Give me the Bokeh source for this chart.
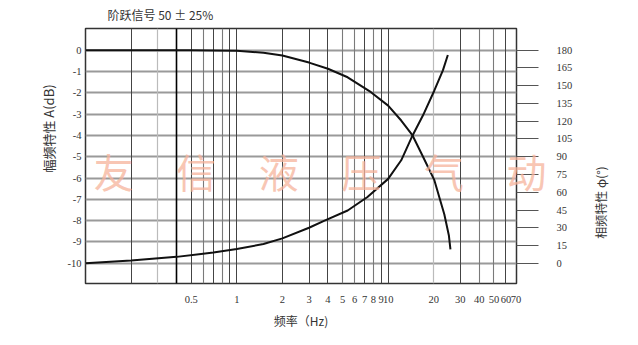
import math
from bokeh.plotting import figure
from bokeh.models import (Range1d, LinearAxis, FixedTicker, Grid, Label)
from bokeh.embed import file_html
from bokeh.resources import INLINE

# ---- data ----
amp_freq = [0.1, 0.2, 0.5, 1.0, 1.5, 2.0, 3.0, 4.0, 5.4, 7.7, 10.0, 12.2, 14.5, 17.0, 20.2, 23.5, 25.2, 25.8]
amp_db   = [0.0, 0.0, 0.0, -0.03, -0.12, -0.25, -0.58, -0.87, -1.27, -1.97, -2.6, -3.3, -4.0, -5.0, -6.1, -7.7, -8.7, -9.35]

phase_freq = [0.1, 0.2, 0.4, 0.7, 1.0, 1.5, 2.0, 3.0, 3.8, 5.4, 7.3, 10.0, 12.2, 14.5, 17.0, 20.2, 23.0, 24.8]
phase_deg  = [0.0, 2.3, 5.4, 9.0, 12.0, 16.3, 21.0, 30.0, 36.0, 44.6, 56.0, 71.3, 87.0, 108.0, 125.0, 146.0, 163.0, 176.0]

x_tick_values = [0.5, 1, 2, 3, 4, 5, 6, 7, 8, 9, 10, 20, 30, 40, 50, 60, 70]
x_tick_labels = ["0.5", "1", "2", "3", "4", "5", "6", "7", "8", "9", "10", "20", "30", "40", "50", "60", "70"]
db_ticks = [0, -1, -2, -3, -4, -5, -6, -7, -8, -9, -10]
db_labels = ["0", "-1", "-2", "-3", "-4", "-5", "-6", "-7", "-8", "-9", "-10"]
deg_ticks = [0, 15, 30, 45, 60, 75, 90, 105, 120, 135, 150, 165, 180]

grid_dark = [0.2, 0.5, 0.7, 0.9, 1, 2, 3, 4, 7, 9, 10, 30, 60]
grid_mid = [0.6, 0.8, 5, 6, 8, 40, 50]
grid_light = [0.3, 20]
grid_bold = [0.4]

title_text = "阶跃信号 50 ± 25%"
x_title = "频率（Hz)"
left_title = "幅频特性 A(dB)"
right_title = "相频特性 φ(°)"
watermark = ["友", "信", "液", "压", "气", "动"]

# ---- figure ----
W, H = 638, 345
y_lo, y_hi = -10.95, 1.02
p = figure(width=W, height=H, x_axis_type="log", x_range=Range1d(0.1, 70.5),
           y_range=Range1d(y_lo, y_hi), output_backend="svg", toolbar_location=None,
           min_border_left=85, min_border_right=122, min_border_top=28, min_border_bottom=62)
p.background_fill_color = "white"
p.border_fill_color = "white"
p.outline_line_color = "#333333"
p.outline_line_width = 1.5

# phase range aligned: 0 deg at -10 dB, 180 deg at 0 dB
p.extra_y_ranges = {"phase": Range1d((y_lo + 10) * 18, (y_hi + 10) * 18)}

tick_font = "Liberation Serif"

# x axis
xa = p.xaxis[0]
xa.ticker = FixedTicker(ticks=x_tick_values)
xa.major_label_overrides = {v: s for v, s in zip(x_tick_values, x_tick_labels)}
xa.major_tick_out = 0
xa.major_tick_in = 0
xa.minor_tick_out = 0
xa.minor_tick_in = 0
xa.axis_line_color = None
xa.major_label_standoff = 12
xa.major_label_text_font = tick_font
xa.major_label_text_font_size = "10.5px"
xa.major_label_text_color = "#333333"
xa.axis_label = x_title
xa.axis_label_text_font = "Noto Sans CJK SC"
xa.axis_label_text_font_style = "normal"
xa.axis_label_text_font_size = "12px"
xa.axis_label_text_color = "#333333"
xa.axis_label_standoff = 6

# left y axis
ya = p.yaxis[0]
ya.ticker = FixedTicker(ticks=db_ticks)
ya.major_label_overrides = {v: s for v, s in zip(db_ticks, db_labels)}
ya.major_tick_out = 0
ya.major_tick_in = 0
ya.minor_tick_out = 0
ya.minor_tick_in = 0
ya.axis_line_color = None
ya.major_label_standoff = 4
ya.major_label_text_font = tick_font
ya.major_label_text_font_size = "10.5px"
ya.major_label_text_color = "#333333"

# right phase axis
ra = LinearAxis(y_range_name="phase", ticker=FixedTicker(ticks=deg_ticks))
ra.major_tick_out = 22
ra.major_tick_in = 0
ra.minor_tick_out = 0
ra.minor_tick_in = 0
ra.major_tick_line_color = "#555555"
ra.axis_line_color = None
ra.major_label_standoff = 18
ra.major_label_text_font = tick_font
ra.major_label_text_font_size = "10.5px"
ra.major_label_text_color = "#333333"
p.add_layout(ra, "right")

# grids
p.xgrid.visible = False
p.ygrid.ticker = FixedTicker(ticks=db_ticks)
p.ygrid.grid_line_color = "#9a9a9a"
p.ygrid.grid_line_width = 2

for ticks, color, width in [(grid_light, "#bbbbbb", 1.2), (grid_mid, "#7a7a7a", 1.1),
                            (grid_dark, "#444444", 1.0), (grid_bold, "#000000", 1.6)]:
    g = Grid(dimension=0, ticker=FixedTicker(ticks=ticks), grid_line_color=color,
             grid_line_width=width)
    p.add_layout(g, "center")

# watermark (last glyph extends past the frame -> put it in a side panel, unclipped)
wm_x0, wm_dx, wm_y = 113, 82.6, 170
for i, ch in enumerate(watermark):
    lab = Label(x=wm_x0 + i * wm_dx, y=wm_y, x_units="canvas", y_units="canvas",
                text=ch, text_align="center", text_baseline="middle",
                text_font="Noto Sans CJK SC", text_font_size="40px",
                text_color="#f6b49c", text_alpha=0.75)
    p.add_layout(lab, "right" if i == len(watermark) - 1 else "center")

# curves
p.line(amp_freq, amp_db, line_color="#111111", line_width=2)
p.line(phase_freq, phase_deg, y_range_name="phase", line_color="#111111", line_width=2)

# titles (in side panels so they are not clipped to the frame)
p.add_layout(Label(x=107, y=14, x_units="canvas", y_units="canvas", text=title_text,
                   text_align="left", text_baseline="middle", text_font="Noto Sans CJK SC",
                   text_font_size="12px", text_color="#333333"), "above")
p.add_layout(Label(x=48, y=128, x_units="canvas", y_units="canvas", text=left_title,
                   angle=math.pi / 2, text_align="center", text_baseline="middle",
                   text_font="Noto Sans CJK SC", text_font_size="13px", text_color="#333333"), "left")
p.add_layout(Label(x=600, y=202, x_units="canvas", y_units="canvas", text=right_title,
                   angle=math.pi / 2, text_align="center", text_baseline="middle",
                   text_font="Noto Sans CJK SC", text_font_size="12px", text_color="#333333"), "right")

open("out.html", "w").write(file_html(p, INLINE))
